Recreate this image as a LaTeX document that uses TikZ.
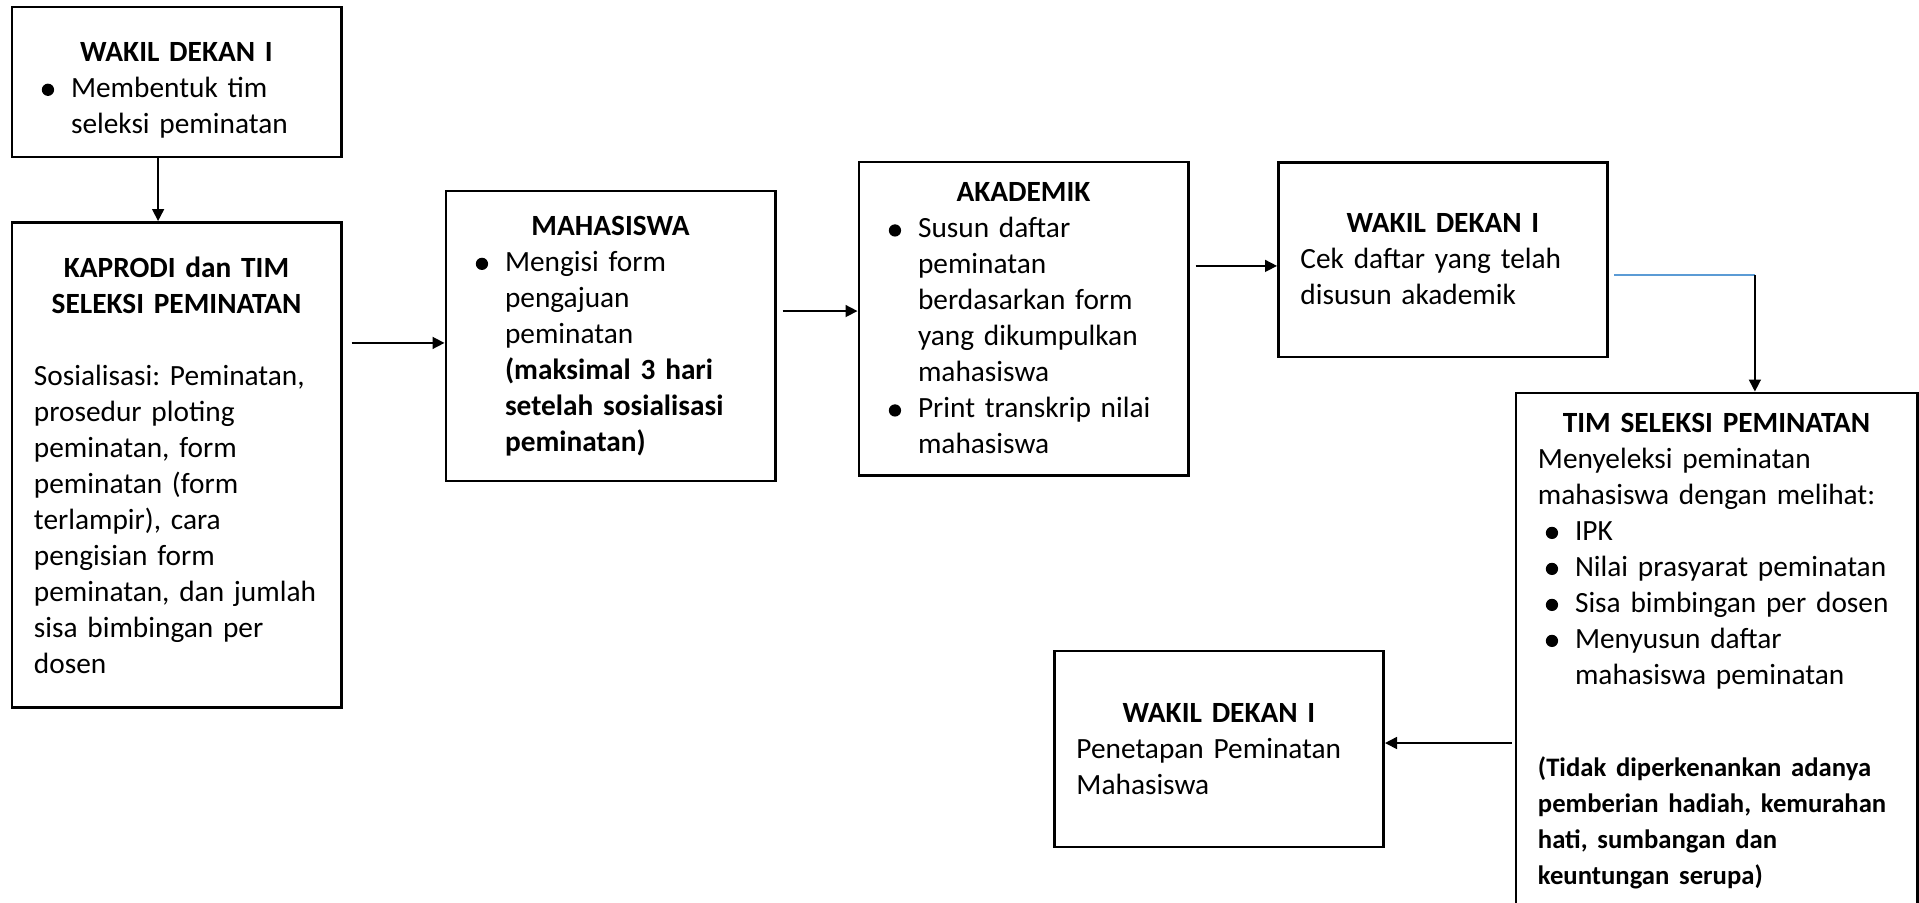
\documentclass[tikz,border=0pt]{standalone}
\usepackage{fontspec}
\setmainfont{Carlito}
\usetikzlibrary{arrows.meta}

\definecolor{linkblue}{RGB}{91,155,213}

% bullet line with hanging indent, title line centred
\newcommand{\bitem}{\par\hangindent=13.9pt\hangafter=1\noindent
  \makebox[13.9pt][l]{\makebox[10.5pt][c]{\tikz[baseline=-2.8pt]\fill (0,0) circle (2.3pt);}}}
\newcommand{\boxtitle}[1]{{\centering\bfseries #1\par}}

\begin{document}
\begin{tikzpicture}[x=0.375pt, y=-0.375pt, >={Triangle[length=4.5pt,width=4.5pt]},
                    box/.style={draw, line width=1.1pt, rectangle, align=left,
                                inner xsep=8.25pt, inner ysep=0pt, text width=106.9pt,
                                font=\fontsize{11pt}{13.5pt}\selectfont,
                                execute at begin node=\setlength{\parindent}{0pt}\frenchspacing},
                    link/.style={line width=0.6pt}]

\useasboundingbox (0,0) rectangle (1919,902);
\clip (0,0) rectangle (1919,902);

\node[box, minimum height=56.25pt] (wd1) at (176.5,82)
  {\boxtitle{\rule{0pt}{13.2pt}WAKIL DEKAN I}\bitem Membentuk tim\newline seleksi peminatan\par};
\node[box, minimum height=181.9pt] (kaprodi) at (176.5,465)
  {\boxtitle{KAPRODI dan TIM\\SELEKSI PEMINATAN}\vspace{13.5pt}%
   Sosialisasi: Peminatan,\newline prosedur ploting\newline peminatan, form\newline peminatan (form\newline
   terlampir), cara\newline pengisian form\newline peminatan, dan jumlah\newline sisa bimbingan per\newline dosen\par};
\node[box, minimum height=108.75pt] (mhs) at (610.5,336)
  {\boxtitle{MAHASISWA}\bitem Mengisi form\newline pengajuan\newline peminatan\newline
   {\bfseries (maksimal 3 hari\newline setelah sosialisasi\newline peminatan)}\par};
\node[box, minimum height=117.4pt] (akad) at (1023.5,318.5)
  {\boxtitle{AKADEMIK}\bitem Susun daftar\newline peminatan\newline berdasarkan form\newline yang dikumpulkan\newline mahasiswa
   \bitem Print transkrip nilai\newline mahasiswa\par};
\node[box, minimum height=73.1pt] (wd2) at (1443,259.5)
  {\boxtitle{WAKIL DEKAN I}Cek daftar yang telah\newline disusun akademik\par};
\node[box, minimum height=193.5pt, text width=133.9pt] (tim) at (1716.5,651)
  {\boxtitle{TIM SELEKSI PEMINATAN}Menyeleksi peminatan\newline mahasiswa dengan melihat:
   \bitem IPK
   \bitem Nilai prasyarat peminatan
   \bitem Sisa bimbingan per dosen
   \bitem Menyusun daftar\newline mahasiswa peminatan\par\vspace{21pt}%
   {\fontsize{10pt}{13.5pt}\selectfont\bfseries (Tidak diperkenankan adanya\newline pemberian hadiah, kemurahan\newline
    hati, sumbangan dan\newline keuntungan serupa)\par}};
\node[box, minimum height=73.5pt] (wd3) at (1219,749)
  {\boxtitle{WAKIL DEKAN I}Penetapan Peminatan\newline Mahasiswa\par};

% connectors
\draw[link,->] ([xshift=-6.9pt]wd1.south) -- ([xshift=-6.9pt]kaprodi.north);
\path ([yshift=-2.6pt]mhs.west) coordinate (m1);
\draw[link,->] ([xshift=3.4pt]kaprodi.east |- m1) -- (m1);
\path ([yshift=2.8pt]akad.west) coordinate (a1);
\draw[link,->] ([xshift=2.25pt]mhs.east |- a1) -- (a1);
\path ([yshift=-2.4pt]wd2.west) coordinate (w1);
\draw[link,->] ([xshift=2.25pt]akad.east |- w1) -- (w1);
\path ([xshift=1.9pt,yshift=-5.8pt]wd2.east) coordinate (b0);
\path ([xshift=14.4pt]tim.north) coordinate (b2);
\draw[link,linkblue] (b0) -- (b0 -| b2) coordinate (b1);
\draw[link,->] (b1) -- (b2);
\path ([yshift=2.25pt]wd3.east) coordinate (t1);
\draw[link,->] ([xshift=-1.1pt]tim.west |- t1) -- (t1);
\end{tikzpicture}
\end{document}
